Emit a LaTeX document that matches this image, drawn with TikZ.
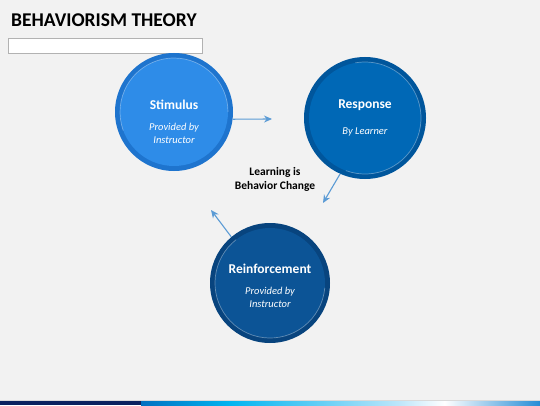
\documentclass[tikz,border=0pt]{standalone}
\usepackage{fontspec}
\setmainfont{Carlito}
\usetikzlibrary{arrows.meta, positioning, calc}
\definecolor{Paper}{RGB}{242, 242, 242}
\definecolor{StimOuter}{RGB}{30, 116, 206}
\definecolor{StimInner}{RGB}{46, 140, 232}
\definecolor{RespOuter}{RGB}{0, 86, 156}
\definecolor{RespInner}{RGB}{0, 104, 182}
\definecolor{ReinfOuter}{RGB}{8, 68, 126}
\definecolor{ReinfInner}{RGB}{12, 84, 150}
\definecolor{Flow}{RGB}{91, 155, 213}
\definecolor{Navy}{RGB}{10, 34, 96}

\tikzset{
  disc/.style={circle, inner sep=0pt, minimum size=#1},
  ringline/.style={white, opacity=0.35, line width=0.7pt},
  flow/.style={Flow, line width=1.1pt, -{Stealth[length=8pt, width=7pt]}},
  headtext/.style={text=white, font=\bfseries\fontsize{13.5}{15}\selectfont},
  subtext/.style={text=white, align=center, font=\itshape\fontsize{10.5}{13}\selectfont}
}

\begin{document}
\begin{tikzpicture}[x=1pt, y=1pt]
  \fill[Paper] (0,0) rectangle (540,405);
  \useasboundingbox (0,0) rectangle (540,405);

  % title and empty box
  \node[anchor=west, inner sep=0pt, font=\bfseries\fontsize{19.5}{22}\selectfont] (title) at (11,385) {BEHAVIORISM THEORY};
  \draw[fill=white, draw=black!30, line width=0.6pt] (8,352) rectangle (202,367);

  % circles
  \node[disc=118pt, fill=StimOuter] (stim) at (174,293) {};
  \node[disc=108pt, fill=StimInner] (stimin) at (stim.center) {};
  \draw[ringline] ([shift={(0:54pt)}]stim.center) arc[start angle=0, end angle=200, radius=54pt];

  \node[disc=122pt, fill=RespOuter] (resp) at (365,287) {};
  \node[disc=112pt, fill=RespInner] (respin) at (resp.center) {};
  \draw[ringline] ([shift={(-110:56pt)}]resp.center) arc[start angle=-110, end angle=100, radius=56pt];

  \node[disc=120pt, fill=ReinfOuter] (reinf) at (270,122) {};
  \node[disc=110pt, fill=ReinfInner] (reinfin) at (reinf.center) {};
  \draw[ringline] ([shift={(128:55pt)}]reinf.center) arc[start angle=128, end angle=355, radius=55pt];

  % texts
  \node[headtext] (stimhead) at ([yshift=7pt]stim.center) {Stimulus};
  \node[subtext] (stimsub) at ([yshift=-21pt]stim.center) {Provided by\\Instructor};
  \node[headtext] (resphead) at ([yshift=13pt]resp.center) {Response};
  \node[subtext] (respsub) at ([yshift=-14pt]resp.center) {By Learner};
  \node[headtext] (reinfhead) at ([yshift=14pt]reinf.center) {Reinforcement};
  \node[subtext] (reinfsub) at ([yshift=-14pt]reinf.center) {Provided by\\Instructor};

  \node[align=center, font=\bfseries\fontsize{11.5}{14}\selectfont] (core) at (275,226) {Learning is\\Behavior Change};

  % connectors
  \coordinate (stimend) at (272,286);
  \coordinate (respend) at (323,202);
  \coordinate (reinfend) at (211,195);
  \draw[flow] (stim.-7) -- (stimend);
  \draw[flow] (resp.-114) -- (respend);
  \draw[flow] (reinf.130) -- (reinfend);

  % bottom bar
  \fill[Navy] (0,0) rectangle (141,5);
  \shade[left color={rgb,255:red,0;green,112;blue,192}, right color={rgb,255:red,0;green,180;blue,240}] (141,0) rectangle (230,5);
  \shade[left color={rgb,255:red,0;green,180;blue,240}, right color={rgb,255:red,190;green,230;blue,250}] (229.5,0) rectangle (400,5);
  \shade[left color={rgb,255:red,190;green,230;blue,250}, right color=white] (399.5,0) rectangle (445,5);
  \shade[left color=white, right color={rgb,255:red,36;green,140;blue,214}] (444.5,0) rectangle (540,5);
  \draw[white!85!black, line width=0.5pt] (0,5.2) -- (540,5.2);
\end{tikzpicture}
\end{document}
